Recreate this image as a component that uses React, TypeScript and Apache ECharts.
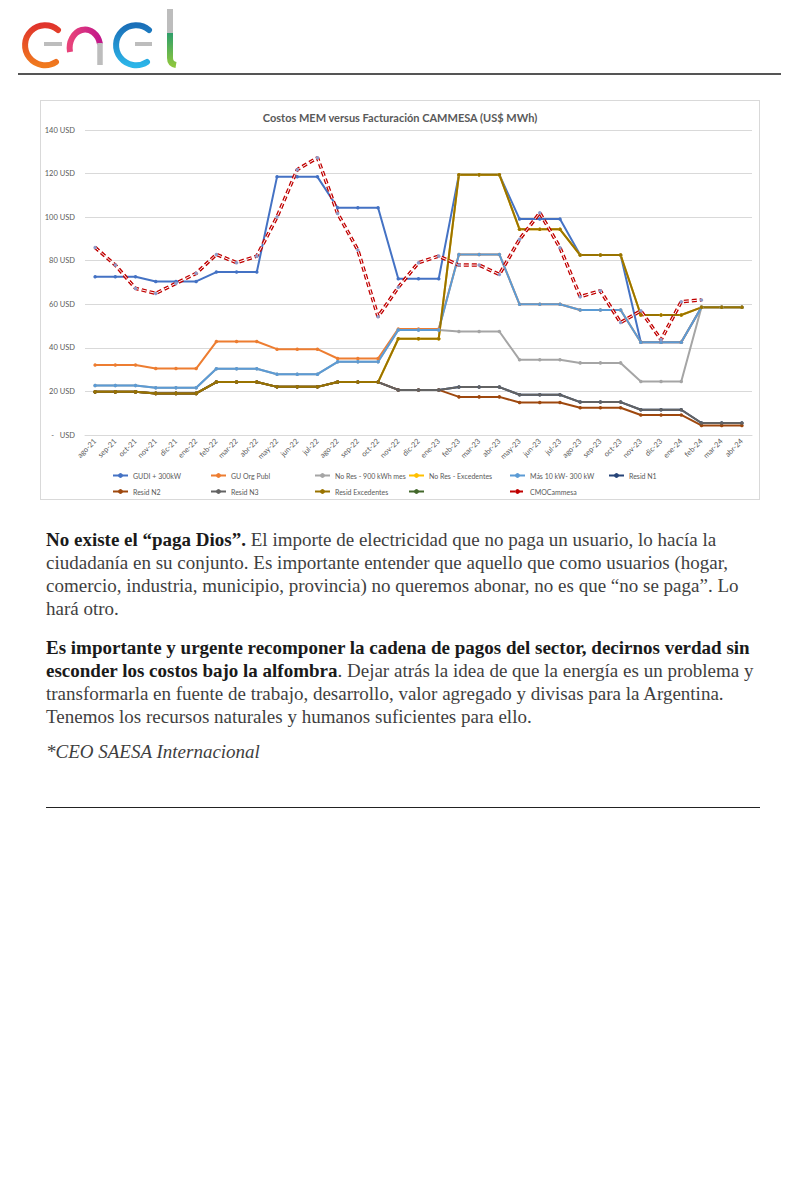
import React, { useEffect, useRef } from "react";
import * as echarts from "echarts";

const categories = ["ago-21","sep-21","oct-21","nov-21","dic-21","ene-22","feb-22","mar-22","abr-22","may-22","jun-22","jul-22","ago-22","sep-22","oct-22","nov-22","dic-22","ene-23","feb-23","mar-23","abr-23","may-23","jun-23","jul-23","ago-23","sep-23","oct-23","nov-23","dic-23","ene-24","feb-24","mar-24","abr-24"];

const gudi = [72.6,72.6,72.6,70.5,70.5,70.5,74.8,74.8,74.8,118.5,118.5,118.5,104.3,104.3,104.3,71.7,71.7,71.7,119.5,119.5,119.5,99.1,99.1,99.1,82.6,82.6,82.6,42.6,42.6,42.6,58.6,58.6,58.6];
const guOrgPubl = [32.1,32.1,32.1,30.5,30.5,30.5,42.9,42.9,42.9,39.4,39.4,39.4,35.1,35.1,35.1,48.7,48.7,48.7,82.9,82.9,82.9,60,60,60,57.4,57.4,57.4,42.6,42.6,42.6,58.6,58.6,58.6];
const noRes900 = [22.7,22.7,22.7,21.7,21.7,21.7,30.4,30.4,30.4,27.9,27.9,27.9,33.6,33.6,33.6,48.2,48.2,48.2,47.5,47.5,47.5,34.5,34.5,34.5,33.1,33.1,33.1,24.6,24.6,24.6,58.6,58.6,58.6];
const noResExc = [19.8,19.8,19.8,19.1,19.1,19.1,24.3,24.3,24.3,22.1,22.1,22.1,24.3,24.3,24.3,44.2,44.2,44.2,119.5,119.5,119.5,94.4,94.4,94.4,82.6,82.6,82.6,55.1,55.1,55.1,58.6,58.6,58.6];
const mas10 = [22.7,22.7,22.7,21.7,21.7,21.7,30.4,30.4,30.4,27.9,27.9,27.9,33.6,33.6,33.6,48.2,48.2,48.2,82.9,82.9,82.9,60,60,60,57.4,57.4,57.4,42.6,42.6,42.6,58.6,58.6,58.6];
const residN1 = [19.8,19.8,19.8,19.1,19.1,19.1,24.3,24.3,24.3,22.1,22.1,22.1,24.3,24.3,24.3,20.7,20.7,20.7,22.0,22.0,22.0,18.5,18.5,18.5,15.1,15.1,15.1,11.6,11.6,11.6,5.5,5.5,5.5];
const residN2 = [19.8,19.8,19.8,19.1,19.1,19.1,24.3,24.3,24.3,22.1,22.1,22.1,24.3,24.3,24.3,20.7,20.7,20.7,17.5,17.5,17.5,14.9,14.9,14.9,12.5,12.5,12.5,9.2,9.2,9.2,4.4,4.4,4.4];
const residN3 = [19.8,19.8,19.8,19.1,19.1,19.1,24.3,24.3,24.3,22.1,22.1,22.1,24.3,24.3,24.3,20.7,20.7,20.7,22.0,22.0,22.0,18.5,18.5,18.5,15.1,15.1,15.1,11.6,11.6,11.6,5.5,5.5,5.5];
const residExc = [19.8,19.8,19.8,19.1,19.1,19.1,24.3,24.3,24.3,22.1,22.1,22.1,24.3,24.3,24.3,44.2,44.2,44.2,119.5,119.5,119.5,94.4,94.4,94.4,82.6,82.6,82.6,55.1,55.1,55.1,58.6,58.6,58.6];
const greenSeries: (number | null)[] = [];
const cmoCammesa = [86.1,78,67.3,65,69.6,74.2,82.9,79.1,82.1,100.1,121.8,127.3,101.7,84.9,54.3,67.8,79.1,82.1,78,78,73.7,89.8,102,86,63.5,66.2,51.6,57,43.7,61.2,62,null,null];

const yTicks = [0, 20, 40, 60, 80, 100, 120, 140];

const seriesDefs = [
  { name: "GUDI + 300kW", data: gudi, color: "#4472C4" },
  { name: "GU Org Publ", data: guOrgPubl, color: "#ED7D31" },
  { name: "No Res - 900 kWh mes", data: noRes900, color: "#A5A5A5" },
  { name: "No Res - Excedentes", data: noResExc, color: "#FFC000" },
  { name: "Más 10 kW- 300 kW", data: mas10, color: "#5B9BD5" },
  { name: "Resid N1", data: residN1, color: "#264478" },
  { name: "Resid N2", data: residN2, color: "#9E480E" },
  { name: "Resid N3", data: residN3, color: "#636363" },
  { name: "Resid Excedentes", data: residExc, color: "#997300" },
  { name: " ", data: greenSeries, color: "#43682B" },
];

const legendPos = [
  [66, 366], [164, 366], [268, 366], [362, 366], [463, 366], [562, 366],
  [66, 382], [164, 382], [268, 382], [362, 382], [463, 382],
];

function Chart() {
  const ref = useRef<HTMLDivElement>(null);
  useEffect(() => {
    if (!ref.current) return;
    const chart = echarts.init(ref.current, null, { renderer: "svg" });
    const series: any[] = seriesDefs.map((s) => ({
      name: s.name,
      type: "line",
      data: s.data,
      symbol: "circle",
      symbolSize: 3.5,
      lineStyle: { color: s.color, width: 2 },
      itemStyle: { color: s.color },
    }));
    series.push({
      name: "CMOCammesa",
      type: "line",
      data: cmoCammesa,
      showSymbol: false,
      symbol: "circle",
      lineStyle: { color: "#C00000", width: 3.5, type: [5, 3] },
      itemStyle: { color: "#C00000" },
    });
    series.push({
      name: "CMO_inner",
      type: "line",
      data: cmoCammesa,
      symbol: "circle",
      symbolSize: 3.5,
      lineStyle: { color: "#ffffff", width: 1, type: [5, 3] },
      itemStyle: { color: "#8E9BC9" },
    });
    const names = [...seriesDefs.map((s) => s.name), "CMOCammesa"];
    const legends = names.map((n, i) => ({
      data: [n],
      left: legendPos[i][0],
      top: legendPos[i][1],
      itemWidth: 15,
      itemHeight: 6,
      itemGap: 2,
      textStyle: { fontSize: 7, color: "#595959", fontFamily: "Lato" },
    }));
    chart.setOption({
      animation: false,
      textStyle: { fontFamily: "Lato" },
      title: {
        text: "Costos MEM versus Facturación CAMMESA (US$ MWh)",
        left: "center",
        top: 6,
        textStyle: { fontSize: 11, fontWeight: "bold", color: "#595959", fontFamily: "Lato" },
      },
      legend: legends,
      grid: { left: 44, right: 7, top: 29, bottom: 64 },
      xAxis: {
        type: "category",
        data: categories,
        boundaryGap: true,
        axisTick: { show: false },
        axisLine: { lineStyle: { color: "#d9d9d9" } },
        axisLabel: { rotate: 45, interval: 0, fontSize: 7.5, color: "#595959", margin: 5 },
      },
      yAxis: {
        type: "value",
        min: yTicks[0],
        max: yTicks[yTicks.length - 1],
        interval: 20,
        axisLine: { show: false },
        axisTick: { show: false },
        splitLine: { lineStyle: { color: "#d9d9d9" } },
        axisLabel: {
          fontSize: 7.5,
          color: "#595959",
          margin: 10,
          formatter: (v: number) => (v === 0 ? "-   USD" : v + " USD"),
        },
      },
      series,
    });
    return () => chart.dispose();
  }, []);
  return <div ref={ref} style={{ width: 718, height: 398 }} />;
}

function Logo() {
  return (
    <svg width="200" height="72" style={{ position: "absolute", left: 0, top: 0 }}>
      <defs>
        <linearGradient id="gE1" x1="0" y1="0" x2="0" y2="1">
          <stop offset="0" stopColor="#E0342C" />
          <stop offset="1" stopColor="#F07A1E" />
        </linearGradient>
        <linearGradient id="gN" x1="0" y1="0" x2="1" y2="0">
          <stop offset="0" stopColor="#E8437A" />
          <stop offset="1" stopColor="#C2188A" />
        </linearGradient>
        <linearGradient id="gE2" x1="0" y1="0" x2="0" y2="1">
          <stop offset="0" stopColor="#1A6FB8" />
          <stop offset="1" stopColor="#2CB5E8" />
        </linearGradient>
        <linearGradient id="gL" x1="0" y1="0" x2="0" y2="1">
          <stop offset="0" stopColor="#2E9E6A" />
          <stop offset="1" stopColor="#8CC63F" />
        </linearGradient>
      </defs>
      <path d="M58 30 A20 20 0 1 0 56 62" fill="none" stroke="url(#gE1)" strokeWidth="6" strokeLinecap="round" />
      <line x1="44" y1="44" x2="62" y2="44" stroke="#BDBDBD" strokeWidth="4" />
      <path d="M70 52 A15 18 0 0 1 100 44" fill="none" stroke="url(#gN)" strokeWidth="6" />
      <line x1="100" y1="43" x2="100" y2="65" stroke="#BDBDBD" strokeWidth="5.5" />
      <path d="M149 30 A20 20 0 1 0 147 62" fill="none" stroke="url(#gE2)" strokeWidth="6" strokeLinecap="round" />
      <line x1="135" y1="44" x2="152" y2="44" stroke="#BDBDBD" strokeWidth="4" />
      <line x1="170" y1="9" x2="170" y2="34" stroke="#BDBDBD" strokeWidth="6" />
      <path d="M170 33 L170 58 Q170 64 176 65" fill="none" stroke="url(#gL)" strokeWidth="6" />
    </svg>
  );
}

const textStyle: React.CSSProperties = {
  position: "absolute",
  left: 46,
  fontFamily: '"Liberation Serif", serif',
  fontSize: 19,
  lineHeight: "23px",
  color: "#3f3f3f",
  whiteSpace: "nowrap",
};

export default function App() {
  return (
    <div style={{ position: "absolute", left: 0, top: 0, width: 800, height: 1200, background: "#fff" }}>
      <Logo />
      <div style={{ position: "absolute", left: 18, top: 73, width: 763, height: 2, background: "#555" }} />
      <div style={{ position: "absolute", left: 40, top: 100, width: 718, height: 398, border: "1px solid #d9d9d9" }}>
        <Chart />
      </div>
      <div style={{ ...textStyle, top: 528 }}>
        <div><b style={{ color: "#1a1a1a" }}>No existe el “paga Dios”.</b> El importe de electricidad que no paga un usuario, lo hacía la</div>
        <div>ciudadanía en su conjunto. Es importante entender que aquello que como usuarios (hogar,</div>
        <div>comercio, industria, municipio, provincia) no queremos abonar, no es que “no se paga”. Lo</div>
        <div>hará otro.</div>
      </div>
      <div style={{ ...textStyle, top: 636 }}>
        <div><b style={{ color: "#1a1a1a" }}>Es importante y urgente recomponer la cadena de pagos del sector, decirnos verdad sin</b></div>
        <div><b style={{ color: "#1a1a1a" }}>esconder los costos bajo la alfombra</b>. Dejar atrás la idea de que la energía es un problema y</div>
        <div>transformarla en fuente de trabajo, desarrollo, valor agregado y divisas para la Argentina.</div>
        <div>Tenemos los recursos naturales y humanos suficientes para ello.</div>
      </div>
      <div style={{ ...textStyle, top: 740, fontStyle: "italic" }}>*CEO SAESA Internacional</div>
      <div style={{ position: "absolute", left: 46, top: 807, width: 714, height: 1, background: "#222" }} />
    </div>
  );
}
